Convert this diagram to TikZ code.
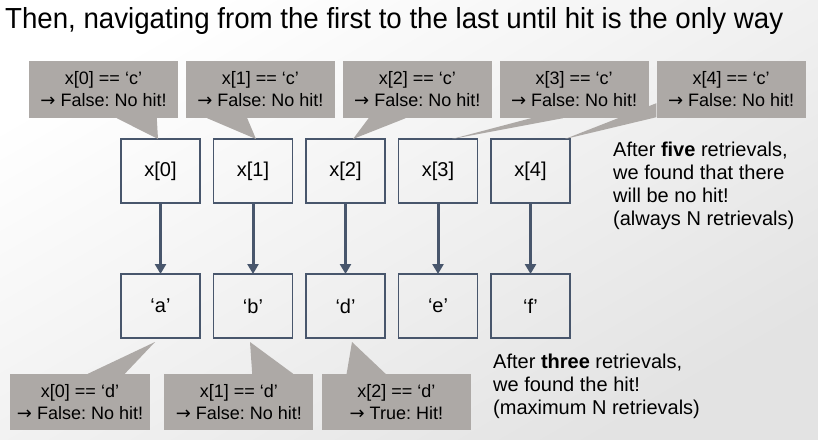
\documentclass[tikz,border=0pt]{standalone}
\usepackage{fontspec}
\usepackage{graphicx}
\setmainfont{Liberation Sans}
\newfontfamily\arrowfont{DejaVu Sans}
\usetikzlibrary{positioning, arrows.meta}
\definecolor{slate}{RGB}{72,86,108}
\definecolor{bubble}{RGB}{173,169,166}
\newcommand{\then}{{\arrowfont →}}
\frenchspacing

\begin{document}
\begin{tikzpicture}[x=1pt, y=-1pt, node distance = 71pt and 13.5pt]
\tikzstyle{cell} = [rectangle, draw = slate, line width = 1.5pt, minimum width = 79pt, minimum height = 64pt, inner sep = 0pt, outer sep = 0pt, font = \fontsize{20}{24}\selectfont]
\tikzstyle{link} = [-{Triangle[width = 11pt, length = 10pt]}, line width = 3pt, draw = slate]
\tikzstyle{bubblebox} = [rectangle, fill = bubble, minimum width = 149pt, minimum height = 57pt, inner sep = 0pt, align = center, font = \fontsize{18}{22}\selectfont]
\tikzstyle{note} = [anchor = base west, align = left, inner sep = 0pt, font = \fontsize{20}{23}\selectfont]
  % background and frame
  \shade[top color = white, bottom color = black!11, shading angle = 30] (0,0) rectangle (818,439);
  \useasboundingbox (0,0) rectangle (818,439);
  \node[anchor = base west, inner sep = 0pt, font = \fontsize{29}{34}\selectfont] (title) at (5,28)
    {\resizebox{778pt}{\height}{Then, navigating from the first to the last until hit is the only way}};
  % cells
  \node[cell] (x0) at (160.5,171) {x[0]};
  \node[cell, right=of x0] (x1) {x[1]};
  \node[cell, right=of x1] (x2) {x[2]};
  \node[cell, right=of x2] (x3) {x[3]};
  \node[cell, right=of x3] (x4) {x[4]};
  \node[cell, below=of x0] (v0) {‘a’};
  \node[cell, below=of x1] (v1) {‘b’};
  \node[cell, below=of x2] (v2) {‘d’};
  \node[cell, below=of x3] (v3) {‘e’};
  \node[cell, below=of x4] (v4) {‘f’};
  \foreach \i in {0,...,4} \draw[link] (x\i) -- (v\i);
  % checks against 'c'
  \node[bubblebox] (c0) at (103.5,89.5) {x[0] == ‘c’\\ \then{} False: No hit!};
  \node[bubblebox, right=7.5pt of c0] (c1) {x[1] == ‘c’\\ \then{} False: No hit!};
  \node[bubblebox, right=7.5pt of c1] (c2) {x[2] == ‘c’\\ \then{} False: No hit!};
  \node[bubblebox, right=7.5pt of c2] (c3) {x[3] == ‘c’\\ \then{} False: No hit!};
  \node[bubblebox, right=7.5pt of c3] (c4) {x[4] == ‘c’\\ \then{} False: No hit!};
  \fill[bubble] ([xshift=88pt]c0.south west) -- ([xshift=128pt]c0.south west) -- ([xshift=-2.5pt]x0.north) -- cycle;
  \fill[bubble] ([xshift=21.5pt]c1.south west) -- ([xshift=61.5pt]c1.south west) -- ([xshift=3pt]x1.north) -- cycle;
  \fill[bubble] ([xshift=26pt]c2.south west) -- ([xshift=63pt]c2.south west) -- ([xshift=7.5pt]x2.north) -- cycle;
  \fill[bubble] ([xshift=31.5pt]c3.south west) -- ([xshift=63.5pt]c3.south west) -- ([xshift=14pt]x3.north) -- cycle;
  \fill[bubble] ([yshift=15pt]c4.south west) -- ([yshift=1pt]c4.south west) -- ([xshift=34.5pt]x4.north) -- cycle;
  % checks against 'd'
  \node[bubblebox, minimum width = 140pt, minimum height = 56pt] (d0) at (80,402) {x[0] == ‘d’\\ \then{} False: No hit!};
  \node[bubblebox, minimum height = 56pt, right=14pt of d0] (d1) {x[1] == ‘d’\\ \then{} False: No hit!};
  \node[bubblebox, minimum height = 56pt, right=8pt of d1] (d2) {x[2] == ‘d’\\ \then{} True: Hit!};
  \fill[bubble] ([xshift=78pt]d0.north west) -- ([xshift=115pt]d0.north west) -- ([xshift=-5.5pt, yshift=-4pt]v0.south) -- cycle;
  \fill[bubble] ([xshift=88pt]d1.north west) -- ([xshift=129pt]d1.north west) -- ([xshift=-3pt, yshift=-4pt]v1.south) -- cycle;
  \fill[bubble] ([xshift=25pt]d2.north west) -- ([xshift=64pt]d2.north west) -- ([xshift=6.5pt, yshift=-4pt]v2.south) -- cycle;
  % remarks (base = last line)
  \node[note] (five) at (613,225) {After \textbf{five} retrievals,\\ we found that there\\ will be no hit!\\ (always N retrievals)};
  \node[note] (three) at (493,414) {After \textbf{three} retrievals,\\ we found the hit!\\ (maximum N retrievals)};
\end{tikzpicture}
\end{document}
